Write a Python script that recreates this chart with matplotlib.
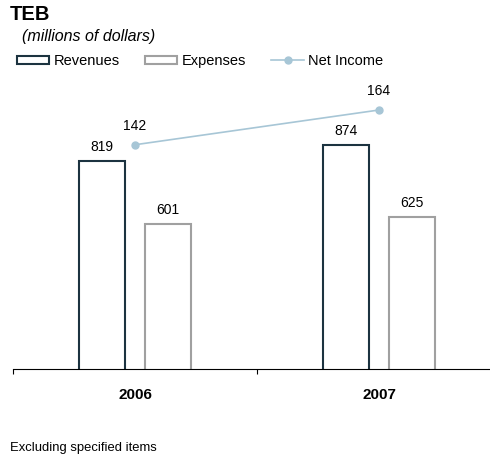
import matplotlib
matplotlib.use("Agg")
import matplotlib.pyplot as plt
import numpy as np
from matplotlib.patches import Patch
from matplotlib.lines import Line2D

plt.rcParams["font.family"] = ["Liberation Sans", "DejaVu Sans"]

# Data
years = ["2006", "2007"]
revenues = [819, 874]
expenses = [601, 625]
net_income = [142, 164]

rev_color = "#1c3340"
exp_color = "#a0a0a0"
ni_color = "#a7c6d6"

W, H = 490, 457
fig = plt.figure(figsize=(W / 100, H / 100), dpi=100)

# axes spans x 13..501 px, y 80..369 px
ax = fig.add_axes([13 / W, (H - 369) / H, 488 / W, 289 / H])
ax2 = ax.twinx()

x = np.arange(len(years))
bw = 0.19
off = 0.134

ax.bar(x - off, revenues, bw, bottom=0, facecolor="white",
       edgecolor=rev_color, linewidth=1.5)
ax.bar(x + off, expenses, bw, bottom=0, facecolor="white",
       edgecolor=exp_color, linewidth=1.5)
ax.set_ylim(100, 1100)
ax.set_xlim(-0.5, 1.5)

# value labels on bars
for xi, v in zip(x - off, revenues):
    ax.annotate(str(v), (xi, v), xytext=(0, 10.3), textcoords="offset points",
                ha="center", va="center", fontsize=10)
for xi, v in zip(x + off, expenses):
    ax.annotate(str(v), (xi, v), xytext=(0, 10.3), textcoords="offset points",
                ha="center", va="center", fontsize=10)

ax2.plot(x, net_income, color=ni_color, linewidth=1.2, marker="o",
         markersize=5, markeredgecolor=ni_color)
ax2.set_ylim(0, 183)
for xi, v in zip(x, net_income):
    ax2.annotate(str(v), (xi, v), xytext=(0, 13.7), textcoords="offset points",
                 ha="center", va="center", fontsize=10)

for a in (ax, ax2):
    for s in ("top", "right", "left"):
        a.spines[s].set_visible(False)
    a.set_yticks([])
ax2.spines["bottom"].set_visible(False)
ax.spines["bottom"].set_color("black")
ax.spines["bottom"].set_linewidth(0.8)

ax.set_xticks(x)
ax.set_xticklabels(years, fontsize=11, fontweight="bold")
ax.tick_params(axis="x", which="major", length=0, pad=14)
ax.set_xticks([-0.5, 0.5, 1.5], minor=True)
ax.tick_params(axis="x", which="minor", length=3.5, width=0.8, direction="out")

# Titles
fig.text(10 / W, 1 - 14.5 / H, "TEB", fontsize=14.5, fontweight="bold",
         ha="left", va="center")
fig.text(22 / W, 1 - 37 / H, "(millions of dollars)", fontsize=11.5,
         style="italic", ha="left", va="center")

handles = [
    Patch(facecolor="white", edgecolor=rev_color, linewidth=1.5, label="Revenues"),
    Patch(facecolor="white", edgecolor=exp_color, linewidth=1.5, label="Expenses"),
    Line2D([], [], color=ni_color, linewidth=1.2, marker="o", markersize=5,
           label="Net Income"),
]
fig.legend(handles=handles, loc="center left", bbox_to_anchor=(17 / W, 1 - 61 / H),
           ncol=3, frameon=False, fontsize=10.5, handlelength=2.2,
           handleheight=0.45, handletextpad=0.3, columnspacing=1.75,
           borderpad=0, borderaxespad=0)

fig.text(10 / W, 1 - 448 / H, "Excluding specified items", fontsize=9.4,
         ha="left", va="center")

fig.savefig("out.png", dpi=100)
